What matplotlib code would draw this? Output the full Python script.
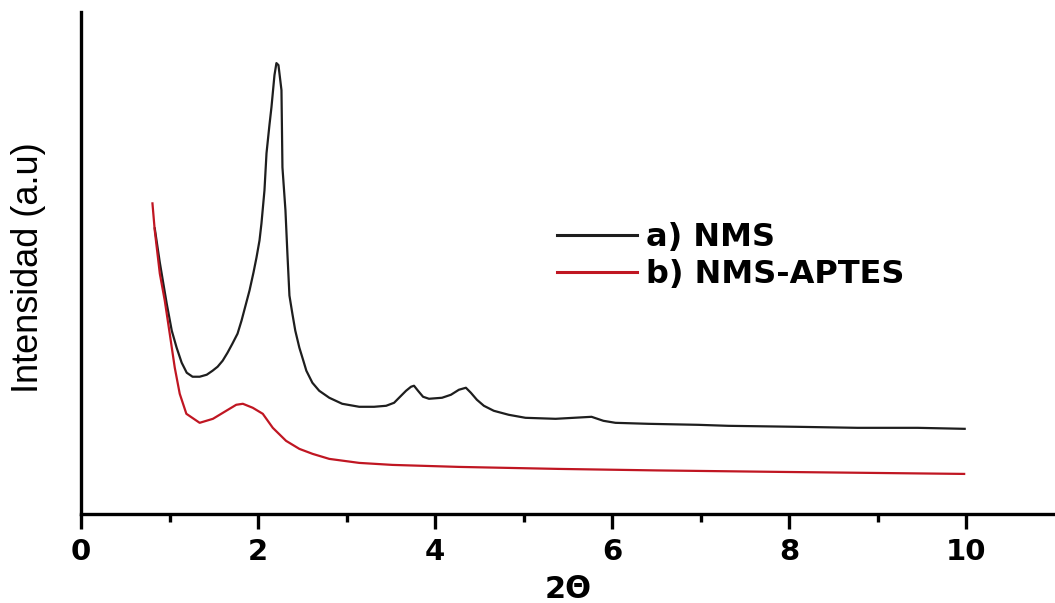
import numpy as np
import matplotlib
matplotlib.use("Agg")
from matplotlib import pyplot as plt

# Difractograma de bajo angulo, NMS y NMS-APTES
two_theta_nms = [0.833, 0.89, 0.968, 1.025, 1.08, 1.137, 1.194, 1.26, 1.34, 1.42,
                 1.486, 1.543, 1.6, 1.655, 1.71, 1.768, 1.813, 1.858, 1.903, 1.948,
                 1.982, 2.016, 2.038, 2.072, 2.095, 2.128, 2.151, 2.185, 2.207, 2.23,
                 2.264, 2.275, 2.309, 2.331, 2.354, 2.387, 2.42, 2.466, 2.511, 2.545,
                 2.613, 2.69, 2.804, 2.95, 3.142, 3.31, 3.446, 3.536, 3.592, 3.671,
                 3.727, 3.761, 3.806, 3.863, 3.93, 4.077, 4.178, 4.268, 4.347, 4.403,
                 4.471, 4.55, 4.662, 4.831, 5.02, 5.36, 5.563, 5.766, 5.9, 6.036,
                 6.41, 6.97, 7.31, 8.1, 8.77, 9.45, 9.98]
int_nms = [285, 251, 210, 183, 166, 151, 141, 137, 137, 139,
           143, 147, 153, 161, 170, 180, 193, 208, 223, 241,
           256, 273, 290, 323, 360, 388, 406, 438, 450, 448,
           423, 346, 303, 260, 218, 200, 183, 166, 153, 143,
           131, 123, 116, 110, 107, 107, 108, 111, 116, 123,
           127, 128, 123, 117, 115, 116, 119, 124, 126, 121,
           114, 108, 103, 99, 96, 95, 96, 97, 93, 91,
           90, 89, 88, 87, 86, 86, 85]

two_theta_aptes = [0.807, 0.833, 0.89, 0.946, 1.002, 1.059, 1.115, 1.19, 1.34, 1.49,
                   1.64, 1.753, 1.828, 1.94, 2.053, 2.166, 2.316, 2.466, 2.616, 2.804,
                   3.142, 3.517, 4.268, 5.394, 6.5, 7.905, 9.974]
int_aptes = [310, 283, 240, 213, 180, 146, 120, 100, 91, 95,
             103, 109, 110, 106, 100, 86, 73, 65, 60, 55,
             51, 49, 47, 45, 43.5, 42, 40]

labels = ["a) NMS", "b) NMS-APTES"]
xticks = [0, 2, 4, 6, 8, 10]

fig = plt.figure(figsize=(10.55, 6.03), dpi=100)
ax = fig.add_axes([81 / 1055, 89 / 603, 974 / 1055, 502 / 603])

ax.plot(two_theta_nms, int_nms, color="#1e1e1e", lw=1.6, label=labels[0])
ax.plot(two_theta_aptes, int_aptes, color="#c01622", lw=1.6, label=labels[1])

ax.set_xlim(0, 11)
ax.set_ylim(0, 501)
ax.set_yticks([])
ax.set_xticks(xticks)
ax.set_xticks(np.arange(1, 11, 2), minor=True)

for s in ["top", "right"]:
    ax.spines[s].set_visible(False)
for s in ["left", "bottom"]:
    ax.spines[s].set_linewidth(2.4)

ax.tick_params(axis="x", which="major", length=11, width=2.4, pad=6,
               labelsize=21)
ax.tick_params(axis="x", which="minor", length=6, width=2.4)
for t in ax.get_xticklabels():
    t.set_fontweight("bold")

ax.set_xlabel("2Θ", fontsize=22, fontweight="bold", labelpad=7)
ax.set_ylabel("Intensidad (a.u)", fontsize=26, family="Liberation Sans")
ax.yaxis.set_label_coords(-0.036, 0.49)

leg = ax.legend(loc="upper left", bbox_to_anchor=(557 / 1055, 1 - 222 / 603),
                bbox_transform=fig.transFigure, frameon=False,
                prop={"weight": "bold", "size": 23},
                handlelength=2.5, handletextpad=0.3, labelspacing=0.2,
                borderpad=0, borderaxespad=0)
for line in leg.get_lines():
    line.set_linewidth(2.2)

plt.savefig("out.png", dpi=100)
